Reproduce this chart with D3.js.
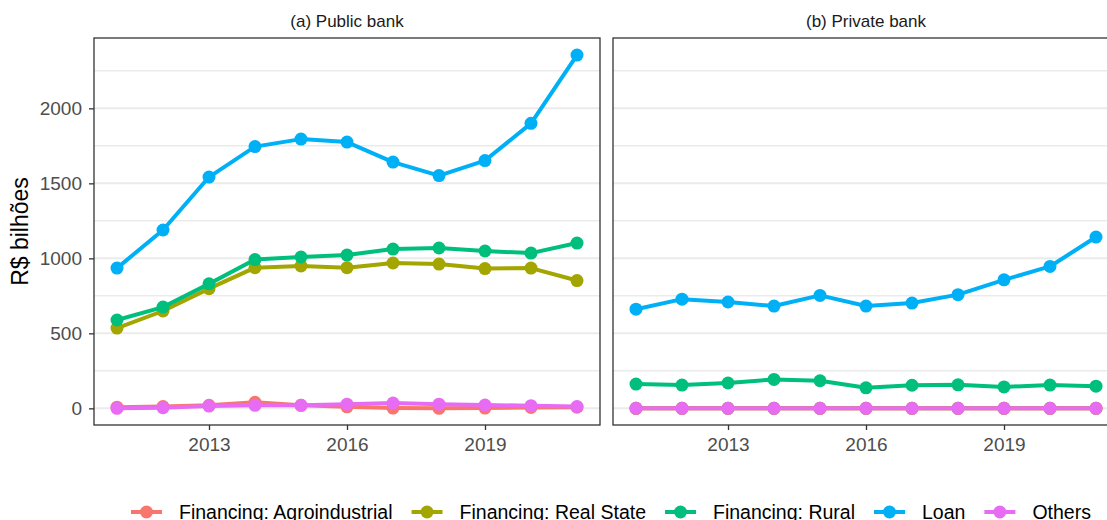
<!DOCTYPE html>
<html><head><meta charset="utf-8">
<script src="https://cdn.jsdelivr.net/npm/d3@7"></script>
<style>body{margin:0;background:#fff}svg{display:block}text{font-family:"Liberation Sans",Arial,sans-serif}</style>
</head><body>
<svg id="c" width="1107" height="520"></svg>
<script>
const years = [2011,2012,2013,2014,2015,2016,2017,2018,2019,2020,2021];
const seriesNames = ["Financing: Agroindustrial","Financing: Real State","Financing: Rural","Loan","Others"];
const colors = ["#F8766D","#A3A500","#00BF7D","#00B0F6","#E76BF3"];
const panels = ["(a) Public bank","(b) Private bank"];
const xTicks = [2013,2016,2019];
const yTicks = [0,500,1000,1500,2000];
const yMinor = [250,750,1250,1750,2250];

const publicAgro     = [8,12,20,40,20,10,2,0,2,6,8];
const publicRealState= [535,649,798,938,949,938,969,962,932,935,852];
const publicRural    = [589,675,830,992,1009,1022,1062,1069,1049,1035,1102];
const publicLoan     = [935,1189,1542,1745,1795,1775,1642,1552,1652,1900,2355];
const publicOthers   = [0,4,15,20,20,28,35,28,22,18,12];

const privateAgro     = [0,0,0,0,0,0,0,0,0,0,0];
const privateRealState= [0,0,0,0,0,0,0,0,0,0,0];
const privateRural    = [162,155,169,193,184,137,154,157,143,155,148];
const privateLoan     = [661,728,709,682,753,682,702,758,857,946,1142];
const privateOthers   = [0,0,0,0,0,0,0,0,0,0,0];

const panelData = [
  [publicAgro, publicRealState, publicRural, publicLoan, publicOthers],
  [privateAgro, privateRealState, privateRural, privateLoan, privateOthers]
];

const svg = d3.select("#c");
const pTop = 38, pBottom = 425, pw = 506;
const lefts = [94, 613];
const y = d3.scaleLinear().domain([-111, 2469]).range([pBottom, pTop]);
const FONT = '"Liberation Sans",Arial,sans-serif';

panels.forEach((title, pi) => {
  const L = lefts[pi];
  const x = d3.scaleLinear().domain([2010.5, 2021.5]).range([L, L + pw]);
  const g = svg.append("g");
  g.selectAll(".mn").data(yMinor).enter().append("line")
    .attr("x1", L).attr("x2", L + pw).attr("y1", d => y(d)).attr("y2", d => y(d))
    .attr("stroke", "#EBEBEB").attr("stroke-width", 1.5);
  g.selectAll(".mj").data(yTicks).enter().append("line")
    .attr("x1", L).attr("x2", L + pw).attr("y1", d => y(d)).attr("y2", d => y(d))
    .attr("stroke", "#EBEBEB").attr("stroke-width", 2);
  const line = d3.line().x((d, i) => x(years[i])).y(d => y(d));
  panelData[pi].forEach((vals, si) => {
    g.append("path").datum(vals).attr("d", line)
      .attr("fill", "none").attr("stroke", colors[si]).attr("stroke-width", 4)
      .attr("stroke-linejoin", "round");
    g.selectAll(".p" + si).data(vals).enter().append("circle")
      .attr("cx", (d, i) => x(years[i])).attr("cy", d => y(d)).attr("r", 6.5)
      .attr("fill", colors[si]);
  });
  g.append("rect").attr("x", L).attr("y", pTop).attr("width", pw).attr("height", pBottom - pTop)
    .attr("fill", "none").attr("stroke", "#333333").attr("stroke-width", 1.3);
  const xa = svg.append("g").attr("transform", `translate(0,${pBottom})`)
    .call(d3.axisBottom(x).tickValues(xTicks).tickFormat(d3.format("d")).tickSize(5).tickPadding(8));
  xa.select(".domain").remove();
  xa.selectAll("line").attr("stroke", "#333333").attr("stroke-width", 1.3);
  xa.selectAll("text").attr("font-size", 19).attr("fill", "#4D4D4D").attr("font-family", FONT);
  svg.append("text").attr("x", L + pw / 2).attr("y", 27).attr("text-anchor", "middle")
    .attr("font-size", 17).attr("fill", "#1A1A1A").text(title);
});

const ya = svg.append("g").attr("transform", `translate(${lefts[0]},0)`)
  .call(d3.axisLeft(y).tickValues(yTicks).tickFormat(d3.format("d")).tickSize(5).tickPadding(7));
ya.select(".domain").remove();
ya.selectAll("line").attr("stroke", "#333333").attr("stroke-width", 1.3);
ya.selectAll("text").attr("font-size", 19).attr("fill", "#4D4D4D").attr("font-family", FONT);

svg.append("text").attr("transform", `translate(28,${(pTop + pBottom) / 2}) rotate(-90)`)
  .attr("text-anchor", "middle").attr("font-size", 23).attr("fill", "#000").text("R$ bilhões");

let lx = 131;
const ly = 512;
seriesNames.forEach((name, i) => {
  const lg = svg.append("g");
  lg.append("line").attr("x1", lx).attr("x2", lx + 31).attr("y1", ly).attr("y2", ly)
    .attr("stroke", colors[i]).attr("stroke-width", 4);
  lg.append("circle").attr("cx", lx + 15.5).attr("cy", ly).attr("r", 6.5).attr("fill", colors[i]);
  const t = lg.append("text").attr("x", lx + 48).attr("y", ly + 6.5).attr("font-size", 19.5)
    .attr("fill", "#000").text(name);
  lx = lx + 48 + t.node().getComputedTextLength() + 19;
});
</script>
</body></html>
